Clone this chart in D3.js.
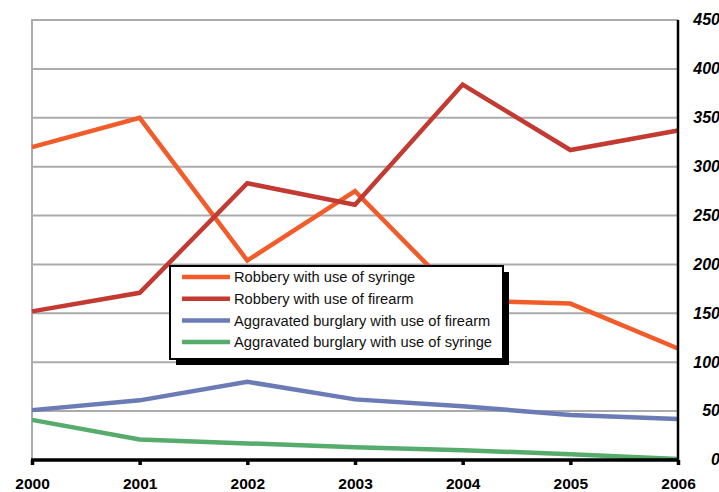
<!DOCTYPE html>
<html><head><meta charset="utf-8">
<script src="https://cdn.jsdelivr.net/npm/d3@7"></script>
<style>body{margin:0;background:#fff}svg{display:block}</style>
</head><body><svg id="c" width="719" height="492"></svg>
<script>
const years = ["2000","2001","2002","2003","2004","2005","2006"];
const robberySyringe = [320, 350, 204, 275, 163, 160, 114];
const robberyFirearm = [152, 171, 283, 261, 384, 317, 337];
const aggFirearm = [51, 61, 80, 62, 55, 46, 42];
const aggSyringe = [41, 21, 17, 13, 10, 6, 1];
const seriesNames = ["Robbery with use of syringe","Robbery with use of firearm","Aggravated burglary with use of firearm","Aggravated burglary with use of syringe"];
const seriesColors = ["#F25C2A","#C23A31","#6B7BB6","#55AC6C"];
const yTicks = [0,50,100,150,200,250,300,350,400,450];

const series = [robberySyringe, robberyFirearm, aggFirearm, aggSyringe];
const svg = d3.select("#c");
const L = 32, R = 678, T = 20, B = 460;
const x = d3.scalePoint().domain(years).range([L, R]);
const y = d3.scaleLinear().domain([0, 450]).range([B, T]);

// gridlines
svg.append("g").selectAll("line").data(yTicks.filter(d => d > 0)).join("line")
  .attr("x1", L).attr("x2", R).attr("y1", d => y(d)).attr("y2", d => y(d))
  .attr("stroke", "#ababab").attr("stroke-width", 2);
// left axis (grey)
svg.append("line").attr("x1", L).attr("x2", L).attr("y1", T - 1).attr("y2", B)
  .attr("stroke", "#ababab").attr("stroke-width", 2);

// lines
const line = d3.line().x((d, i) => x(years[i])).y(d => y(d));
series.forEach((s, i) => {
  svg.append("path").datum(s).attr("d", line).attr("fill", "none")
    .attr("stroke", seriesColors[i]).attr("stroke-width", 4.5)
    .attr("stroke-linejoin", "miter");
});

// right axis
const ry = svg.append("g").attr("transform", `translate(${R},0)`)
  .call(d3.axisRight(y).tickValues(yTicks).tickSize(0).tickPadding(0));
ry.select(".domain").attr("stroke", "#000").attr("stroke-width", 2.5).attr("d", `M0,${T}V${B}`);
ry.selectAll("text").attr("x", 42).attr("text-anchor", "end")
  .attr("font-family", "Liberation Sans, Arial, sans-serif").attr("font-size", 16)
  .attr("font-weight", "bold").attr("font-style", "italic").attr("fill", "#000").attr("dy", "0.3em");

// bottom axis
const bx = svg.append("g").attr("transform", `translate(0,${B})`)
  .call(d3.axisBottom(x).tickSize(5).tickPadding(13));
bx.select(".domain").attr("stroke", "#000").attr("stroke-width", 3.5).attr("d", `M${L-1},0H${R+1}`);
bx.selectAll(".tick line").attr("stroke", "#000").attr("stroke-width", 3.5);
bx.selectAll("text").attr("font-family", "Liberation Sans, Arial, sans-serif").attr("font-size", 15.5)
  .attr("font-weight", "bold").attr("fill", "#000");

// legend
const lg = svg.append("g");
const lx = 170, ly = 266, lw = 333, lh = 93;
lg.append("rect").attr("x", lx + 6).attr("y", ly + 6).attr("width", lw).attr("height", lh).attr("fill", "#000");
lg.append("rect").attr("x", lx).attr("y", ly).attr("width", lw).attr("height", lh)
  .attr("fill", "#fff").attr("stroke", "#000").attr("stroke-width", 2);
seriesNames.forEach((n, i) => {
  const cy = ly + 11 + i * 21.7;
  lg.append("line").attr("x1", lx + 12).attr("x2", lx + 60).attr("y1", cy).attr("y2", cy)
    .attr("stroke", seriesColors[i]).attr("stroke-width", 4.5);
  lg.append("text").attr("x", lx + 64).attr("y", cy).attr("dy", "0.35em")
    .attr("font-family", "Liberation Sans, Arial, sans-serif").attr("font-size", 14.7)
    .attr("fill", "#111").text(n);
});
</script></body></html>
